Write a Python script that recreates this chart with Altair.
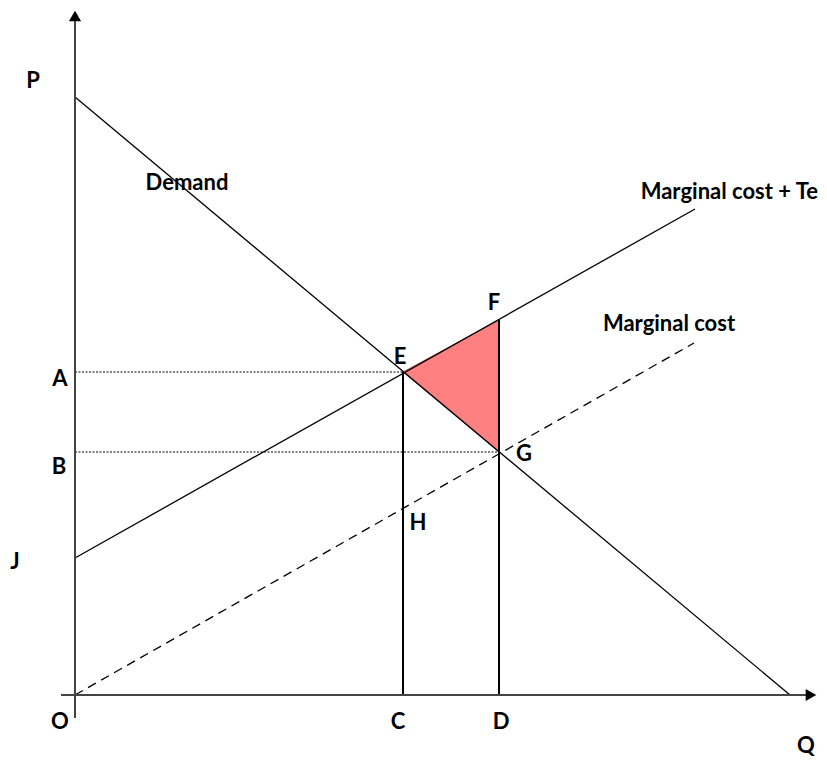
import altair as alt
import pandas as pd

# Data units: 1 unit = 10 px of the reference picture
demand_x = [0.0, 71.5]
demand_y = [59.8, 0.0]
mcte_x = [0.0, 62.0]
mcte_y = [13.7, 48.6]
mc_x = [0.0, 61.9]
mc_y = [0.0, 35.2]

q_c = 32.8     # quantity C (E)
q_d = 42.4     # quantity D (F, G)
p_a = 32.3     # price A (E)
p_b = 24.3     # price B (G)
p_f = 37.5     # price at F

label_text = ["P", "A", "B", "J", "O", "C", "D", "Q", "Demand", "Marginal cost", "E", "F", "G", "H"]
label_x = [-4.2, -1.5, -1.6, -6.0, -1.5, 32.3, 42.6, 73.1, 11.2, 59.4, 32.5, 41.9, 44.9, 34.3]
label_y = [61.4, 31.6, 22.8, 13.3, -2.7, -2.7, -2.7, -5.1, 51.2, 37.1, 33.8, 39.2, 24.1, 17.2]

XD = [-6.7, 74.4]
YD = [-6.3, 68.7]

xs = alt.Scale(domain=XD, nice=False, zero=False)
ys = alt.Scale(domain=YD, nice=False, zero=False)


def X(f="x"):
    return alt.X(f"{f}:Q", scale=xs, axis=None)


def Y(f="y"):
    return alt.Y(f"{f}:Q", scale=ys, axis=None)


lines_df = pd.DataFrame({
    "x": demand_x + mcte_x,
    "y": demand_y + mcte_y,
    "s": ["demand"] * 2 + ["mcte"] * 2,
})
mc_df = pd.DataFrame({"x": mc_x, "y": mc_y})

tri_df = pd.DataFrame({"x": [q_c, q_d], "y": [p_a, p_f], "y2": [p_a, p_b]})

vert_df = pd.DataFrame({"x": [q_c, q_d], "y": [0.0, 0.0], "y2": [p_a, p_f]})
hor_df = pd.DataFrame({"y": [p_a, p_b], "x": [0.0, 0.0], "x2": [q_c, q_d]})

yaxis_df = pd.DataFrame({"x": [0.0], "y": [-2.3], "y2": [67.5]})
xaxis_df = pd.DataFrame({"y": [0.0], "x": [-1.4], "x2": [73.3]})
arrow_up_df = pd.DataFrame({"x": [0.0], "y": [67.9]})
arrow_right_df = pd.DataFrame({"x": [73.6], "y": [0.0]})

labels_df = pd.DataFrame({"x": label_x, "y": label_y, "t": label_text})
mcte_label_df = pd.DataFrame({"x": [74.3], "y": [50.3], "t": ["Marginal cost + Te"]})

FS = 22

tri = alt.Chart(tri_df).mark_area(color="#ff8080", stroke="#a03030", strokeWidth=0.8).encode(
    x=X(), y=Y(), y2=alt.Y2("y2:Q"))

lines = alt.Chart(lines_df).mark_line(color="black", strokeWidth=1.3).encode(
    x=X(), y=Y(), detail="s:N")

mc = alt.Chart(mc_df).mark_line(color="black", strokeWidth=1.3, strokeDash=[9, 6]).encode(
    x=X(), y=Y())

verts = alt.Chart(vert_df).mark_rule(color="black", strokeWidth=2).encode(
    x=X(), y=Y(), y2=alt.Y2("y2:Q"))

hors = alt.Chart(hor_df).mark_rule(color="black", strokeWidth=1, strokeDash=[2, 1.5]).encode(
    y=Y(), x=X(), x2=alt.X2("x2:Q"))

yaxis = alt.Chart(yaxis_df).mark_rule(color="#444444", strokeWidth=2).encode(
    x=X(), y=Y(), y2=alt.Y2("y2:Q"))
xaxis = alt.Chart(xaxis_df).mark_rule(color="#444444", strokeWidth=2).encode(
    y=Y(), x=X(), x2=alt.X2("x2:Q"))

arrow_up = alt.Chart(arrow_up_df).mark_point(shape="triangle-up", filled=True, color="black",
                                             size=150, opacity=1).encode(x=X(), y=Y())
arrow_right = alt.Chart(arrow_right_df).mark_point(shape="triangle-right", filled=True, color="black",
                                                   size=150, opacity=1).encode(x=X(), y=Y())

labels = alt.Chart(labels_df).mark_text(font="Lato", fontWeight="bold", fontSize=FS,
                                        color="black", align="center", baseline="middle").encode(
    x=X(), y=Y(), text="t:N")
mcte_label = alt.Chart(mcte_label_df).mark_text(font="Lato", fontWeight="bold", fontSize=FS,
                                                color="black", align="right", baseline="middle").encode(
    x=X(), y=Y(), text="t:N")

chart = alt.layer(
    tri, hors, lines, mc, verts, yaxis, xaxis, arrow_up, arrow_right, labels, mcte_label
).properties(
    width=811, height=750, autosize=alt.AutoSizeParams(type="none"), padding=0
).configure_view(stroke=None)

chart.save("out.html", embed_options={"renderer": "svg", "actions": False})
